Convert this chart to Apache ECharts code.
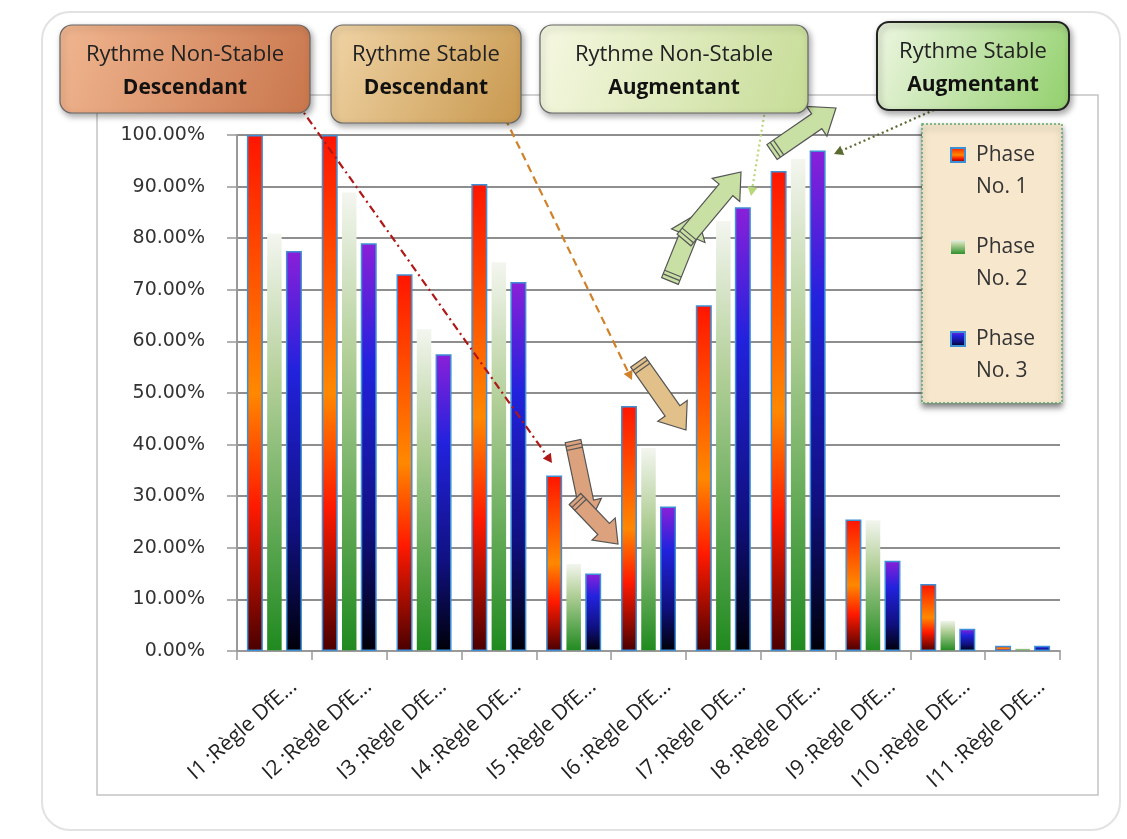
<!DOCTYPE html>
<html>
<head>
<meta charset="utf-8">
<script src="https://cdn.jsdelivr.net/npm/echarts@6/dist/echarts.min.js"></script>
<style>
  html, body { margin: 0; padding: 0; background: #fff; }
  #chart { width: 1127px; height: 839px; }
</style>
</head>
<body>
<div id="chart"></div>
<script>
// categories + values (percent)
const categories = ['I1 :Règle DfE...', 'I2 :Règle DfE...', 'I3 :Règle DfE...', 'I4 :Règle DfE...',
    'I5 :Règle DfE...', 'I6 :Règle DfE...', 'I7 :Règle DfE...', 'I8 :Règle DfE...',
    'I9 :Règle DfE...', 'I10 :Règle DfE...', 'I11 :Règle DfE...']
const phase1 = [100, 100, 73, 90.5, 34, 47.5, 67, 93, 25.5, 13, 1]
const phase2 = [81, 89, 62.5, 75.5, 17, 39.5, 83.5, 95.5, 25.5, 6, 0.6]
const phase3 = [77.5, 79, 57.5, 71.5, 15, 28, 86, 97, 17.5, 4.3, 1]
const seriesNames = ['Phase No. 1', 'Phase No. 2', 'Phase No. 3']

const FONT = 'Open Sans'

function grad(stops) {
    return new echarts.graphic.LinearGradient(0, 0, 0, 1,
        stops.map(s => ({ offset: s[0], color: s[1] })))
}
const fills = [
    grad([[0, '#ff1500'], [0.5, '#ff8800'], [0.72, '#ff1a00'], [1, '#4a0000']]),
    grad([[0, '#f4f6f0'], [0.35, '#b4d09a'], [1, '#1f8a1f']]),
    grad([[0, '#8a20d8'], [0.3, '#2222dd'], [0.7, '#101080'], [1, '#000008']])
]
const borders = ['#3d8fd6', 'rgba(255,255,255,0)', '#3d8fd6']

// simple block arrow polygon
function blockArrow(x1, y1, x2, y2, w, fill) {
    let dx = x2 - x1, dy = y2 - y1
    let len = Math.sqrt(dx * dx + dy * dy)
    let ux = dx / len, uy = dy / len
    let px = -uy, py = ux
    let hl = w * 1.3, hw = w
    let bx = x2 - ux * hl, by = y2 - uy * hl
    let h = w / 2
    let pts = [
        [x1 + px * h, y1 + py * h], [bx + px * h, by + py * h], [bx + px * hw, by + py * hw],
        [x2, y2],
        [bx - px * hw, by - py * hw], [bx - px * h, by - py * h], [x1 - px * h, y1 - py * h]
    ]
    let els = [{
        type: 'polygon', z: 20, shape: { points: pts },
        style: { fill: fill, stroke: '#555', lineWidth: 1.2 }
    }]
    // stripes at the tail
    for (let k = 1; k <= 2; k++) {
        let sx = x1 + ux * k * 4, sy = y1 + uy * k * 4
        els.push({
            type: 'line', z: 21,
            shape: { x1: sx + px * h, y1: sy + py * h, x2: sx - px * h, y2: sy - py * h },
            style: { stroke: '#555', lineWidth: 1.2 }
        })
    }
    return els
}

// thin line with small arrowhead
function pointer(x1, y1, x2, y2, color, dash) {
    let dx = x2 - x1, dy = y2 - y1
    let len = Math.sqrt(dx * dx + dy * dy)
    let ux = dx / len, uy = dy / len
    let px = -uy, py = ux
    let s = 9
    return [{
        type: 'line', z: 20,
        shape: { x1: x1, y1: y1, x2: x2 - ux * 4, y2: y2 - uy * 4 },
        style: { stroke: color, lineWidth: 2.2, lineDash: dash }
    }, {
        type: 'polygon', z: 20,
        shape: { points: [[x2, y2], [x2 - ux * s + px * s * 0.55, y2 - uy * s + py * s * 0.55], [x2 - ux * s - px * s * 0.55, y2 - uy * s - py * s * 0.55]] },
        style: { fill: color }
    }]
}

function noteBox(x, y, w, h, c1, c2, line1, line2, stroke, lw) {
    return {
        type: 'group', x: x, y: y, z: 30,
        children: [{
            type: 'rect', z: 30,
            shape: { width: w, height: h, r: 12 },
            style: {
                fill: new echarts.graphic.LinearGradient(0, 0, 1, 1, [{ offset: 0, color: c1 }, { offset: 1, color: c2 }]),
                stroke: stroke, lineWidth: lw,
                shadowBlur: 6, shadowColor: 'rgba(0,0,0,0.35)', shadowOffsetX: 2, shadowOffsetY: 3
            }
        }, {
            type: 'text', z: 31, x: w / 2, y: 30,
            style: { text: line1, font: '22px "' + FONT + '"', fill: '#222', align: 'center', verticalAlign: 'middle' }
        }, {
            type: 'text', z: 31, x: w / 2, y: 63,
            style: { text: line2, font: 'bold 21px "' + FONT + '"', fill: '#111', align: 'center', verticalAlign: 'middle' }
        }]
    }
}

let EC = echarts.init(document.getElementById('chart'))

let graphics = [
    {
        type: 'rect', z: -10, shape: { x: 42, y: 12, width: 1078, height: 818, r: 28 },
        style: { fill: 'none', stroke: '#e2e2e2', lineWidth: 2 }
    },
    {
        type: 'rect', z: -9, shape: { x: 97, y: 95, width: 1001, height: 700 },
        style: { fill: 'none', stroke: '#c4c4c4', lineWidth: 1.5 }
    },
    noteBox(60, 25, 250, 88, '#f0b690', '#c9764c', 'Rythme Non-Stable', 'Descendant', '#666', 1.2),
    noteBox(331, 25, 190, 98, '#f0d4a6', '#c8984e', 'Rythme Stable', 'Descendant', '#666', 1.2),
    noteBox(540, 25, 268, 88, '#f6f8e2', '#c6dc96', 'Rythme Non-Stable', 'Augmentant', '#666', 1.2),
    noteBox(877, 22, 192, 88, '#eef6e2', '#92d06c', 'Rythme Stable', 'Augmentant', '#222', 2),
    // legend box
    {
        type: 'rect', z: 5, shape: { x: 922, y: 124, width: 140, height: 279 },
        style: {
            fill: '#f6e7cd', stroke: '#5aa86a', lineWidth: 1.5, lineDash: [2, 2],
            shadowBlur: 6, shadowColor: 'rgba(0,0,0,0.5)', shadowOffsetX: 0, shadowOffsetY: 4
        }
    }
]
graphics = graphics.concat(
    pointer(297, 103, 552, 463, '#b01818', [8, 4, 2, 4]),
    pointer(505, 118, 632, 380, '#d0822a', [8, 5]),
    pointer(765, 110, 751, 196, '#b8d87a', [2, 3]),
    pointer(934, 110, 834, 154, '#5a6a30', [2, 3]),
    blockArrow(573, 441, 590, 522, 16, '#dca27e'),
    blockArrow(575, 499, 618, 544, 16, '#dca27e'),
    blockArrow(638, 362, 686, 430, 18, '#e2c08a'),
    blockArrow(670, 281, 697, 214, 18, '#c8e0a4'),
    blockArrow(684, 240, 741, 172, 18, '#c8e0a4'),
    blockArrow(772, 152, 836, 108, 18, '#c8e0a4')
)

let option = {
    backgroundColor: '#fff',
    animation: false,
    textStyle: { fontFamily: FONT },
    grid: { left: 237, right: 67, top: 135, bottom: 188 },
    legend: {
        orient: 'vertical',
        left: 950, top: 107,
        padding: 0,
        itemWidth: 14, itemHeight: 14,
        itemGap: -4,
        icon: 'rect',
        data: seriesNames,
        // blank first line keeps the icon level with "Phase"
        formatter: name => '\u00a0\n' + name.replace(' No.', '\nNo.'),
        textStyle: { fontSize: 21, color: '#333', lineHeight: 32, padding: [0, 0, 0, 6] },
        z: 10
    },
    xAxis: {
        type: 'category',
        data: categories,
        axisLine: { lineStyle: { color: '#999', width: 2 } },
        axisTick: { show: true, length: 9, lineStyle: { color: '#999', width: 1.5 } },
        axisLabel: {
            rotate: 42, fontSize: 21, color: '#222', margin: 50, interval: 0,
            padding: [0, -26, 0, 0]
        }
    },
    yAxis: {
        type: 'value',
        min: 0, max: 100, interval: 10,
        axisLine: { show: true, lineStyle: { color: '#999', width: 2 } },
        axisTick: { show: true, length: 10, lineStyle: { color: '#999', width: 1.5 } },
        axisLabel: {
            formatter: v => v.toFixed(2) + '%', fontSize: 19, fontFamily: 'DejaVu Sans',
            color: '#333', margin: 32
        },
        splitLine: { lineStyle: { color: '#8e8e8e', width: 2 } }
    },
    series: [phase1, phase2, phase3].map((vals, i) => ({
        name: seriesNames[i],
        type: 'bar',
        data: vals,
        barWidth: 16,
        barGap: '22%',
        itemStyle: { color: fills[i], borderColor: borders[i], borderWidth: 1.5 }
    })),
    graphic: graphics
}
EC.setOption(option)
</script>
</body>
</html>
